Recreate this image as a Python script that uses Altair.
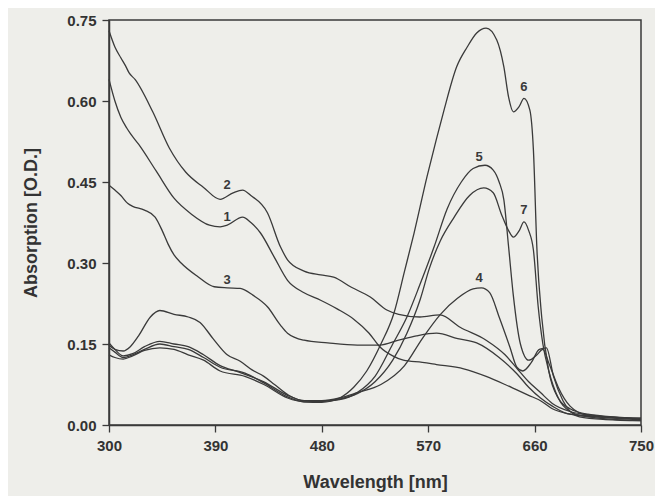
import altair as alt
import pandas as pd

# ---- data ----
wl1 = [300,305,310,315,318,325,340,355,370,385,394,400,413,420,428,440,451,465,479,493,507,520,529,540,549,565,577,600,619,635,645,655,665,675,690,710,750]
od1 = [0.64,0.60,0.57,0.55,0.54,0.52,0.47,0.42,0.39,0.37,0.367,0.37,0.385,0.375,0.356,0.31,0.268,0.245,0.231,0.215,0.196,0.17,0.145,0.128,0.12,0.116,0.112,0.104,0.09,0.075,0.065,0.055,0.045,0.03,0.02,0.015,0.012]

wl2 = [300,305,310,314,317,322,337,351,365,380,394,405,413,420,434,445,451,465,479,490,505,521,535,545,563,580,597,619,635,645,655,665,675,690,710,750]
od2 = [0.73,0.70,0.68,0.665,0.652,0.64,0.58,0.513,0.468,0.44,0.418,0.43,0.435,0.425,0.393,0.33,0.306,0.285,0.278,0.274,0.255,0.237,0.213,0.205,0.2,0.204,0.181,0.157,0.13,0.105,0.08,0.06,0.04,0.025,0.018,0.012]

wl3 = [300,305,310,316,320,330,339,345,350,355,361,375,389,400,411,422,434,445,451,465,485,510,529,545,560,577,595,611,630,645,655,665,675,690,750]
od3 = [0.444,0.435,0.425,0.41,0.405,0.398,0.385,0.36,0.335,0.315,0.30,0.275,0.256,0.254,0.253,0.24,0.219,0.185,0.17,0.157,0.152,0.148,0.148,0.157,0.165,0.17,0.16,0.152,0.125,0.095,0.07,0.05,0.035,0.02,0.012]

wl4 = [300,305,312,318,325,335,343,355,367,377,388,400,411,421,431,440,452,465,480,495,510,530,550,565,580,595,608,615,622,630,639,645,650,657,664,670,676,684,698,720,750]
od4 = [0.148,0.14,0.137,0.145,0.165,0.20,0.212,0.205,0.20,0.19,0.16,0.13,0.118,0.102,0.09,0.075,0.055,0.045,0.045,0.05,0.06,0.075,0.11,0.16,0.204,0.235,0.252,0.254,0.245,0.20,0.145,0.107,0.10,0.115,0.14,0.143,0.09,0.045,0.015,0.01,0.008]

wl5 = [300,305,312,320,330,343,355,367,380,394,410,431,451,465,480,495,510,525,540,552,563,575,586,598,608,618,625,630,634,638,642,648,655,662,667,672,680,690,705,750]
od5 = [0.152,0.14,0.128,0.132,0.145,0.155,0.15,0.145,0.13,0.11,0.098,0.08,0.055,0.045,0.044,0.047,0.06,0.09,0.15,0.20,0.26,0.33,0.40,0.45,0.475,0.481,0.472,0.45,0.417,0.33,0.24,0.15,0.12,0.13,0.14,0.115,0.07,0.035,0.018,0.01]

wl6 = [300,305,312,320,330,343,355,367,380,394,415,431,451,465,480,495,507,518,530,541,550,558,569,577,583,594,603,611,619,628,634,638,642,647,651,656,659,662,666,672,680,690,705,750]
od6 = [0.143,0.135,0.125,0.13,0.14,0.15,0.145,0.14,0.125,0.107,0.096,0.078,0.052,0.043,0.042,0.05,0.07,0.10,0.15,0.207,0.285,0.355,0.46,0.53,0.58,0.663,0.70,0.726,0.735,0.713,0.663,0.607,0.58,0.59,0.605,0.583,0.509,0.324,0.20,0.10,0.05,0.03,0.02,0.012]

wl7 = [300,305,312,320,330,343,355,367,380,394,415,431,451,465,480,495,510,525,540,552,563,571,580,592,605,617,625,632,638,642,647,651,655,659,663,667,672,680,690,705,750]
od7 = [0.13,0.125,0.122,0.128,0.138,0.143,0.14,0.13,0.12,0.10,0.09,0.075,0.05,0.043,0.044,0.048,0.058,0.08,0.12,0.17,0.231,0.29,0.34,0.385,0.425,0.439,0.43,0.39,0.36,0.348,0.36,0.376,0.36,0.324,0.22,0.15,0.10,0.05,0.025,0.015,0.008]

label_text = ["1", "2", "3", "4", "5", "6", "7"]
label_wl = [400, 400, 400, 613, 613, 651, 651]
label_od = [0.385, 0.444, 0.269, 0.272, 0.496, 0.626, 0.398]

x_ticks = [300, 390, 480, 570, 660, 750]
y_ticks = [0.0, 0.15, 0.30, 0.45, 0.60, 0.75]

# ---- build tables ----
series = [(wl1, od1), (wl2, od2), (wl3, od3), (wl4, od4), (wl5, od5), (wl6, od6), (wl7, od7)]
rows = []
for i, (w, o) in enumerate(series, start=1):
    for k, (a, b) in enumerate(zip(w, o)):
        rows.append({"curve": str(i), "wl": a, "od": b, "order": k})
df = pd.DataFrame(rows)
lab = pd.DataFrame({"text": label_text, "wl": label_wl, "od": label_od})

ink = "#3a3a3a"
font = "Liberation Sans"

xscale = alt.Scale(domain=[300, 750], nice=False, zero=False)
yscale = alt.Scale(domain=[0, 0.75], nice=False)

lines = alt.Chart(df).mark_line(color=ink, strokeWidth=1.3, interpolate="monotone").encode(
    x=alt.X("wl:Q", scale=xscale,
            axis=alt.Axis(values=x_ticks, title="Wavelength [nm]", format="d",
                          titlePadding=20, labelFlush=False)),
    y=alt.Y("od:Q", scale=yscale,
            axis=alt.Axis(values=y_ticks, title="Absorption [O.D.]", format=".2f",
                          titlePadding=26, labelFlush=False)),
    detail="curve:N",
    order="order:Q",
)

labels = alt.Chart(lab).mark_text(
    color=ink, font=font, fontWeight="bold", fontSize=13, baseline="middle"
).encode(
    x=alt.X("wl:Q", scale=xscale),
    y=alt.Y("od:Q", scale=yscale),
    text="text:N",
)

chart = (lines + labels).properties(
    width=532, height=405,
    autosize=alt.AutoSizeParams(type="none"),
    padding={"left": 101, "top": 12, "right": 14, "bottom": 71},
    background="#eeeeea",
).configure_view(
    stroke=ink, strokeWidth=1.5
).configure_axis(
    grid=False,
    domainColor=ink, domainWidth=1.5,
    tickColor=ink, tickWidth=1.3, tickSize=7,
    labelFont=font, labelFontWeight="bold", labelFontSize=15, labelColor="#333333",
    labelPadding=6,
    titleFont=font, titleFontWeight="bold", titleFontSize=18, titleColor="#333333",
)

chart.save("out.html", embed_options={"renderer": "svg", "actions": False})
